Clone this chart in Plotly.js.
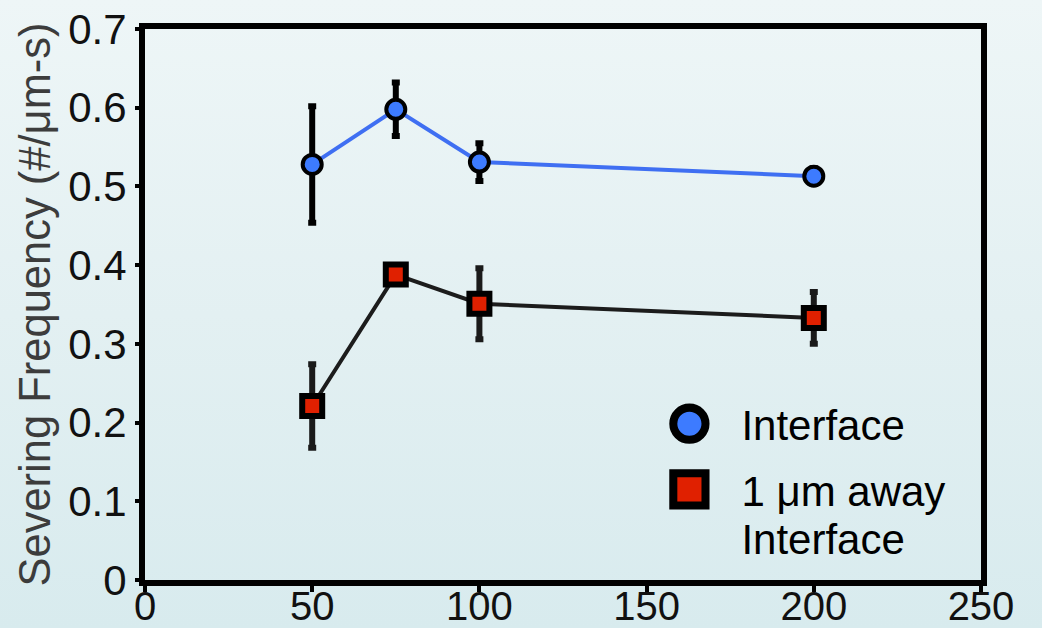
<!DOCTYPE html>
<html>
<head>
<meta charset="utf-8">
<script src="https://cdn.plot.ly/plotly-3.0.1.min.js"></script>
<style>
  html, body { margin: 0; padding: 0; }
  body { width: 1042px; height: 628px; background: linear-gradient(to bottom, #eef6f7 0%, #e3f0f2 50%, #d8ebee 100%); }
  #chart { width: 1042px; height: 628px; }
</style>
</head>
<body>
<div id="chart"></div>
<script>
// Data
const xValues = [50, 75, 100, 200];
const interfaceY = [0.528, 0.598, 0.531, 0.513];
const interfaceErr = [0.074, 0.034, 0.024, 0.010];
const awayY = [0.221, 0.388, 0.351, 0.333];
const awayErr = [0.053, 0.010, 0.045, 0.033];
const seriesNames = ["Interface", "1 \u03bcm away<br>Interface"];
const xTicks = [0, 50, 100, 150, 200, 250];
const yTicks = [0, 0.1, 0.2, 0.3, 0.4, 0.5, 0.6, 0.7];
const yTickText = ["0", "0.1", "0.2", "0.3", "0.4", "0.5", "0.6", "0.7"];
const yTitle = "Severing Frequency (#/\u03bcm-s)";

const blueLine = "#3f6ff2";
const blueFill = "#3d7bff";
const redFill = "#e02000";

const traces = [
  {
    x: xValues, y: interfaceY, type: "scatter", mode: "lines+markers",
    name: seriesNames[0], showlegend: false,
    line: { color: blueLine, width: 4 },
    marker: { symbol: "circle", size: 19, color: blueFill, line: { color: "#000", width: 4 } },
    error_y: { type: "data", array: interfaceErr, visible: true, color: "#000", thickness: 6, width: 4 }
  },
  {
    x: xValues, y: awayY, type: "scatter", mode: "lines+markers",
    name: seriesNames[1], showlegend: false,
    line: { color: "#1c1c1c", width: 4 },
    marker: { symbol: "square", size: 20, color: redFill, line: { color: "#000", width: 6 } },
    error_y: { type: "data", array: awayErr, visible: true, color: "#1a1a1a", thickness: 6, width: 4 }
  },
  // legend keys
  {
    x: [null], y: [null], type: "scatter", mode: "markers", name: seriesNames[0], legendgroup: "a",
    marker: { symbol: "circle", size: 14, color: blueFill, line: { color: "#000", width: 3.5 } }
  },
  {
    x: [null], y: [null], type: "scatter", mode: "markers", name: seriesNames[1], legendgroup: "b",
    marker: { symbol: "square", size: 14, color: redFill, line: { color: "#000", width: 3.5 } }
  }
];

const font = "Liberation Sans, Arial, Helvetica, sans-serif";

const layout = {
  width: 1042, height: 628,
  margin: { l: 145, r: 61, t: 29, b: 48 },
  paper_bgcolor: "rgba(0,0,0,0)",
  plot_bgcolor: "rgba(0,0,0,0)",
  font: { family: font, color: "#111" },
  showlegend: true,
  legend: {
    x: 0.589, y: 0.345, xanchor: "left", yanchor: "top",
    bgcolor: "rgba(0,0,0,0)", borderwidth: 0,
    font: { family: font, size: 42, color: "#000" },
    itemwidth: 94, tracegroupgap: 8, valign: "top"
  },
  xaxis: {
    range: [0, 250], tickmode: "array", tickvals: xTicks,
    showgrid: false, zeroline: false, automargin: false,
    showline: true, linecolor: "#000", linewidth: 6, mirror: true,
    ticks: "outside", ticklen: 6, tickwidth: 4, tickcolor: "#000",
    ticklabelstandoff: -20,
    tickfont: { family: font, size: 40, color: "#111" }
  },
  yaxis: {
    range: [0, 0.7], tickmode: "array", tickvals: yTicks, ticktext: yTickText,
    showgrid: false, zeroline: false, automargin: false,
    showline: true, linecolor: "#000", linewidth: 6, mirror: true,
    ticks: "outside", ticklen: 4, tickwidth: 4, tickcolor: "#000",
    tickfont: { family: font, size: 42, color: "#111" },
    title: { text: yTitle, font: { family: font, size: 43.5, color: "#3c3c3c" }, standoff: 6 }
  }
};

Plotly.newPlot("chart", traces, layout, { displayModeBar: false, staticPlot: true }).then(function (gd) {
  gd.querySelectorAll(".legend .legendpoints path.scatterpts").forEach(function (p) {
    const t = p.getAttribute("transform") || "";
    p.setAttribute("transform", t + " scale(2.3)");
  });
  gd.querySelectorAll(".legend text.legendtext tspan.line").forEach(function (s) {
    const dy = s.getAttribute("dy");
    if (dy && dy !== "0em") s.setAttribute("dy", "1.16em");
  });
});
</script>
</body>
</html>
